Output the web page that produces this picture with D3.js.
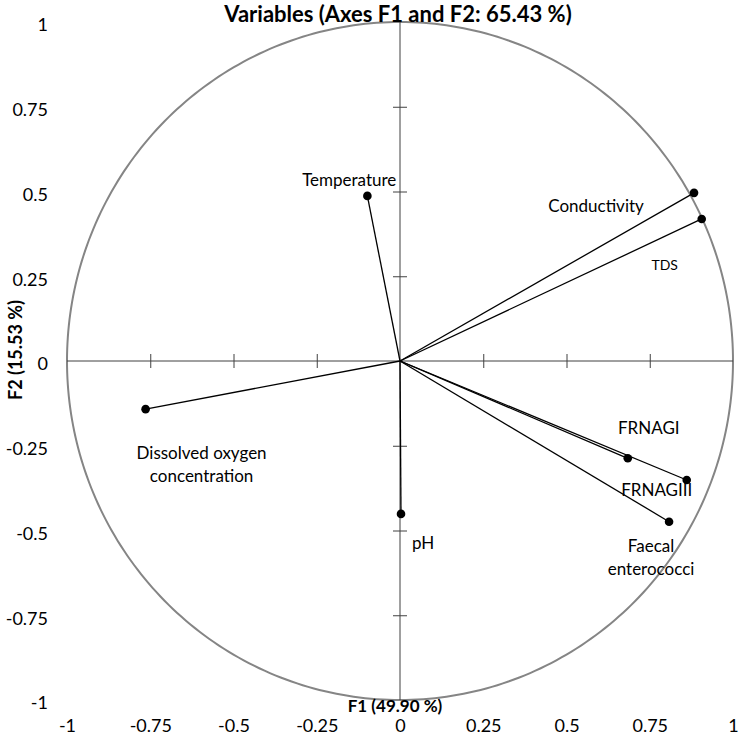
<!DOCTYPE html>
<html>
<head>
<meta charset="utf-8">
<script src="https://cdn.jsdelivr.net/npm/d3@7/dist/d3.min.js"></script>
<style>
  html, body { margin: 0; padding: 0; background: #ffffff; }
  svg { display: block; }
  text { font-family: Lato, "Open Sans", sans-serif; fill: #000; }
</style>
</head>
<body>
<svg id="chart" width="740" height="738"></svg>
<script>
// ---- data ----
const categories = ["Temperature", "Conductivity", "TDS", "Dissolved oxygen concentration", "pH", "FRNAGI", "FRNAGIII", "Faecal enterococci"];
const f1Values = [-0.098, 0.883, 0.906, -0.764, 0.003, 0.684, 0.861, 0.808];
const f2Values = [0.487, 0.496, 0.419, -0.142, -0.451, -0.287, -0.351, -0.474];
const tickValues = [-1, -0.75, -0.5, -0.25, 0, 0.25, 0.5, 0.75, 1];
const tickLabels = ["-1", "-0.75", "-0.5", "-0.25", "0", "0.25", "0.5", "0.75", "1"];
const titleText = "Variables (Axes F1 and F2: 65.43 %)";
const xTitle = "F1 (49.90 %)";
const yTitle = "F2 (15.53 %)";

// ---- label layout (offsets in px from the point) ----
const labelLayout = [
  { anchor: "end",    dx: 29,  dy: -16, size: 17, wrap: false },
  { anchor: "middle", dx: -98, dy: 13,  size: 17, wrap: false },
  { anchor: "middle", dx: -37, dy: 46,  size: 14, wrap: false },
  { anchor: "middle", dx: 56,  dy: 43,  size: 17, wrap: true },
  { anchor: "start",  dx: 11,  dy: 29,  size: 17, wrap: false },
  { anchor: "middle", dx: 21,  dy: -31, size: 17, wrap: false },
  { anchor: "middle", dx: -30, dy: 10,  size: 17, wrap: false },
  { anchor: "middle", dx: -18, dy: 23,  size: 17, wrap: true }
];

const svg = d3.select("#chart");
const x = d3.scaleLinear().domain([-1, 1]).range([67, 733]);
const y = d3.scaleLinear().domain([-1, 1]).range([700, 22]);

// circle through scales
const circlePts = d3.range(0, 361, 1).map(a => [Math.cos(a * Math.PI / 180), Math.sin(a * Math.PI / 180)]);
svg.append("path")
  .attr("d", d3.line().x(d => x(d[0])).y(d => y(d[1]))(circlePts) + "Z")
  .attr("fill", "none").attr("stroke", "#858585").attr("stroke-width", 2);

// axis lines
svg.append("line").attr("x1", x(-1)).attr("x2", x(1)).attr("y1", y(0)).attr("y2", y(0))
  .attr("stroke", "#404040").attr("stroke-width", 1);
svg.append("line").attr("x1", x(0)).attr("x2", x(0)).attr("y1", y(1)).attr("y2", y(-1))
  .attr("stroke", "#404040").attr("stroke-width", 1);

const innerTicks = tickValues.filter(v => Math.abs(v) < 1 && v !== 0);
const xCross = svg.append("g").attr("transform", `translate(0,${y(0) - 7})`)
  .call(d3.axisBottom(x).tickValues(innerTicks).tickSize(14).tickFormat(""));
const yCross = svg.append("g").attr("transform", `translate(${x(0) + 7},0)`)
  .call(d3.axisLeft(y).tickValues(innerTicks).tickSize(14).tickFormat(""));
[xCross, yCross].forEach(g => {
  g.select(".domain").remove();
  g.selectAll(".tick line").attr("stroke", "#404040").attr("stroke-width", 1);
});

// tick labels
const fmt = v => tickLabels[tickValues.indexOf(v)];
const xLab = svg.append("g").attr("transform", "translate(0,732)")
  .call(d3.axisBottom(x).tickValues(tickValues).tickSize(0).tickPadding(0).tickFormat(fmt));
xLab.selectAll("text").attr("dy", null).attr("y", 0);
const yLab = svg.append("g").attr("transform", "translate(48,3)")
  .call(d3.axisLeft(y).tickValues(tickValues).tickSize(0).tickPadding(0).tickFormat(fmt));
[xLab, yLab].forEach(g => {
  g.select(".domain").remove();
  g.selectAll("text").attr("font-family", "Lato, sans-serif").attr("font-size", 18).attr("fill", "#000");
});

// vectors
const pts = categories.map((c, i) => ({ name: c, f1: f1Values[i], f2: f2Values[i], lay: labelLayout[i] }));
svg.append("g").selectAll("line").data(pts).join("line")
  .attr("x1", x(0)).attr("y1", y(0))
  .attr("x2", d => x(d.f1)).attr("y2", d => y(d.f2))
  .attr("stroke", "#000").attr("stroke-width", 1.3);
svg.append("g").selectAll("circle").data(pts).join("circle")
  .attr("cx", d => x(d.f1)).attr("cy", d => y(d.f2)).attr("r", 4.3).attr("fill", "#000");

// labels
const lab = svg.append("g").selectAll("text").data(pts).join("text")
  .attr("x", d => x(d.f1) + d.lay.dx)
  .attr("y", d => y(d.f2) + d.lay.dy)
  .attr("text-anchor", d => d.lay.anchor)
  .attr("dominant-baseline", "central")
  .attr("font-size", d => d.lay.size);
lab.each(function(d) {
  const t = d3.select(this);
  if (d.lay.wrap) {
    const k = d.name.lastIndexOf(" ");
    const lines = [d.name.slice(0, k), d.name.slice(k + 1)];
    lines.forEach((ln, j) => {
      t.append("tspan").attr("x", x(d.f1) + d.lay.dx).attr("dy", j === 0 ? 0 : 23).text(ln);
    });
  } else {
    t.text(d.name);
  }
});

// titles
svg.append("text").attr("x", 398).attr("y", 22).attr("text-anchor", "middle")
  .attr("font-weight", "bold").attr("font-size", 22).text(titleText);
svg.append("text").attr("x", 395).attr("y", 712).attr("text-anchor", "middle")
  .attr("font-weight", "bold").attr("font-size", 17).text(xTitle);
svg.append("text").attr("transform", "translate(22,350) rotate(-90)").attr("text-anchor", "middle")
  .attr("font-weight", "bold").attr("font-size", 18).text(yTitle);
</script>
</body>
</html>
